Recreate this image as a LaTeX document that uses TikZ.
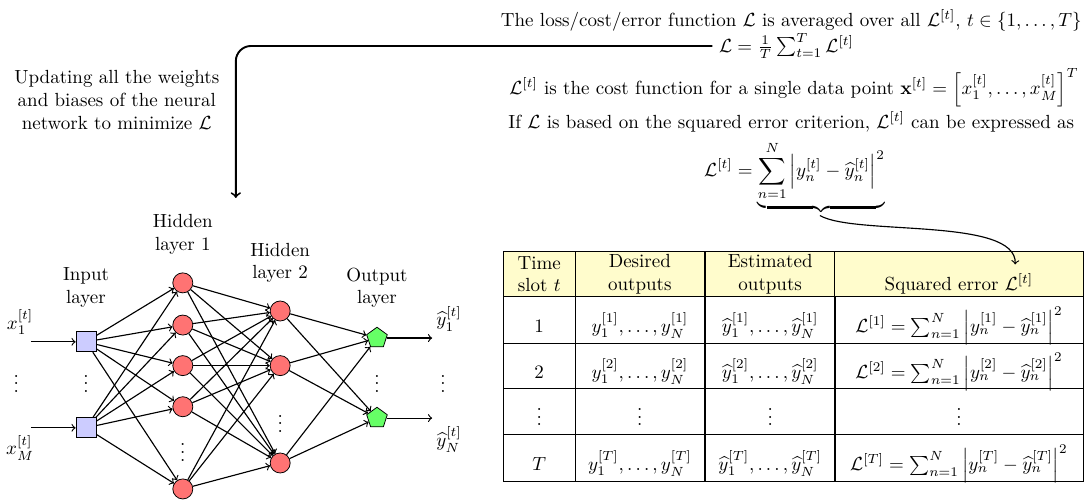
\documentclass[tikz,border=0pt]{standalone}
\usepackage{amsmath,amssymb}
\usetikzlibrary{shapes.geometric}

\begin{document}
\begin{tikzpicture}[>=to]
        \tikzset{inp/.style={draw, fill=blue!20, minimum size=0.37cm, inner sep=0pt},
                 hid/.style={draw, circle, fill=red!55, minimum size=0.37cm, inner sep=0pt},
                 outp/.style={draw, regular polygon, regular polygon sides=5, fill=green!60, minimum size=0.4cm, inner sep=0pt},
                 edge/.style={->, semithick},
                 cell/.style={draw, minimum height=0.86cm, inner sep=0pt, align=center},
                 rowcell/.style={cell, text height=13pt, text depth=0pt},
                 hcell/.style={cell, fill=yellow!20, minimum height=0.83cm}}

        \useasboundingbox (0,0) rectangle (20.19,9.26);

        % network
        \node[inp] (x1) at (1.59,2.94) {};
        \node[inp] (xm) at (1.59,1.35) {};
        \node (xdots) at (1.59,2.27) {$\vdots$};

        \node[hid] (ha1) at (3.38,4.03) {};
        \node[hid] (ha2) at (3.38,3.25) {};
        \node[hid] (ha3) at (3.38,2.50) {};
        \node[hid] (ha4) at (3.38,1.74) {};
        \node[hid] (ha5) at (3.38,0.22) {};
        \node (hadots) at (3.38,1.0) {$\vdots$};

        \node[hid] (hb1) at (5.18,3.51) {};
        \node[hid] (hb2) at (5.18,2.50) {};
        \node[hid] (hb3) at (5.18,0.70) {};
        \node (hbdots) at (5.18,1.53) {$\vdots$};

        \node[outp] (o1) at (6.97,3.01) {};
        \node[outp] (on) at (6.97,1.53) {};
        \node (odots) at (6.97,2.27) {$\vdots$};

        \foreach \i in {x1,xm}
            \foreach \j in {ha1,ha2,ha3,ha4,ha5}
                \draw[edge] (\i) -- (\j);
        \foreach \i in {ha1,ha2,ha3,ha4,ha5}
            \foreach \j in {hb1,hb2,hb3}
                \draw[edge] (\i) -- (\j);
        \foreach \i in {hb1,hb2,hb3}
            \foreach \j in {o1,on}
                \draw[edge] (\i) -- (\j);

        \node[align=center] (linp) at (1.59,3.94) {Input\\layer};
        \node[align=center] (lha) at (3.38,4.92) {Hidden\\layer 1};
        \node[align=center] (lhb) at (5.18,4.40) {Hidden\\layer 2};
        \node[align=center] (lout) at (6.97,3.94) {Output\\layer};

        \node (xl1) at (0.37,3.31) {$x_1^{[t]}$};
        \node (xlm) at (0.37,0.98) {$x_M^{[t]}$};
        \node (xldots) at (0.30,2.27) {$\vdots$};
        \coordinate (xs1) at (0.57,2.94);
        \coordinate (xsm) at (0.57,1.35);
        \draw[edge] (xs1) -- (x1);
        \draw[edge] (xsm) -- (xm);

        \node (yl1) at (8.30,3.37) {$\widehat{y}_1^{[t]}$};
        \node (yln) at (8.30,1.13) {$\widehat{y}_N^{[t]}$};
        \node (yldots) at (8.19,2.27) {$\vdots$};
        \coordinate (ye1) at (7.99,3.01);
        \coordinate (yen) at (7.99,1.53);
        \draw[edge] (o1) -- (ye1);
        \draw[edge] (on) -- (yen);

        % loss text
        \node[align=center] (upd) at (2.16,7.41) {Updating all the weights\\and biases of the neural\\network to minimize $\mathcal{L}$};

        \node (tloss) at (14.63,8.89) {The loss/cost/error function $\mathcal{L}$ is averaged over all $\mathcal{L}^{[t]}$, $t\in\{1,\dots,T\}$};
        \node (lavg) at (14.54,8.41) {$\mathcal{L}=\frac{1}{T}\sum_{t=1}^{T}\mathcal{L}^{[t]}$};
        \node (tcost) at (14.68,7.64) {$\mathcal{L}^{[t]}$ is the cost function for a single data point $\mathbf{x}^{[t]}=\left[x_1^{[t]},\dots,x_M^{[t]}\right]^T$};
        \node (tsq) at (14.63,7.01) {If $\mathcal{L}$ is based on the squared error criterion, $\mathcal{L}^{[t]}$ can be expressed as};
        \node (leq) at (14.69,5.97) {$\displaystyle\mathcal{L}^{[t]}=\underbrace{\sum_{n=1}^{N}\left|y_n^{[t]}-\widehat{y}_n^{[t]}\right|^2}$};

        \coordinate (lend) at (4.36,5.60);
        \draw[->, line width=1pt, rounded corners=8pt] (lavg.west) -| (lend);

        % table
        \node[hcell, minimum width=1.33cm] (hd1) at (9.97,4.19) {Time\\slot $t$};
        \node[hcell, minimum width=2.40cm] (hd2) at (11.83,4.19) {Desired\\outputs};
        \node[hcell, minimum width=2.40cm] (hd3) at (14.24,4.19) {Estimated\\outputs};
        \node[hcell, minimum width=4.59cm] (hd4) at (17.73,4.19) {\vphantom{D}\\Squared error $\mathcal{L}^{[t]}$};

        \node[rowcell, minimum width=1.33cm, minimum height=0.87cm] (a1) at (9.97,3.34) {1};
        \node[rowcell, minimum width=2.40cm, minimum height=0.87cm] (a2) at (11.83,3.34) {$y_1^{[1]},\dots,y_N^{[1]}$};
        \node[rowcell, minimum width=2.40cm, minimum height=0.87cm] (a3) at (14.24,3.34) {$\widehat{y}_1^{[1]},\dots,\widehat{y}_N^{[1]}$};
        \node[rowcell, minimum width=4.59cm, minimum height=0.87cm] (a4) at (17.73,3.34) {$\mathcal{L}^{[1]} = \sum_{n=1}^{N}\left|y_n^{[1]}-\widehat{y}_n^{[1]}\right|^2$};

        \node[rowcell, minimum width=1.33cm, minimum height=0.83cm] (b1) at (9.97,2.49) {2};
        \node[rowcell, minimum width=2.40cm, minimum height=0.83cm] (b2) at (11.83,2.49) {$y_1^{[2]},\dots,y_N^{[2]}$};
        \node[rowcell, minimum width=2.40cm, minimum height=0.83cm] (b3) at (14.24,2.49) {$\widehat{y}_1^{[2]},\dots,\widehat{y}_N^{[2]}$};
        \node[rowcell, minimum width=4.59cm, minimum height=0.83cm] (b4) at (17.73,2.49) {$\mathcal{L}^{[2]} = \sum_{n=1}^{N}\left|y_n^{[2]}-\widehat{y}_n^{[2]}\right|^2$};

        \node[cell, minimum width=1.33cm, minimum height=0.85cm] (c1) at (9.97,1.65) {$\vdots$};
        \node[cell, minimum width=2.40cm, minimum height=0.85cm] (c2) at (11.83,1.65) {$\vdots$};
        \node[cell, minimum width=2.40cm, minimum height=0.85cm] (c3) at (14.24,1.65) {$\vdots$};
        \node[cell, minimum width=4.59cm, minimum height=0.85cm] (c4) at (17.73,1.65) {$\vdots$};

        \node[rowcell, minimum width=1.33cm, minimum height=0.87cm] (d1) at (9.97,0.79) {$T$};
        \node[rowcell, minimum width=2.40cm, minimum height=0.87cm] (d2) at (11.83,0.79) {$y_1^{[T]},\dots,y_N^{[T]}$};
        \node[rowcell, minimum width=2.40cm, minimum height=0.87cm] (d3) at (14.24,0.79) {$\widehat{y}_1^{[T]},\dots,\widehat{y}_N^{[T]}$};
        \node[rowcell, minimum width=4.59cm, minimum height=0.87cm] (d4) at (17.73,0.79) {$\mathcal{L}^{[T]} = \sum_{n=1}^{N}\left|y_n^{[T]}-\widehat{y}_n^{[T]}\right|^2$};

        \coordinate (brace) at ([xshift=0.47cm,yshift=0.1cm]leq.south);
        \draw[->, semithick] (brace) .. controls (15.8,4.9) and (18.8,5.25) .. ([xshift=1.04cm,yshift=-0.24cm]hd4.north);
    \end{tikzpicture}
\end{document}
